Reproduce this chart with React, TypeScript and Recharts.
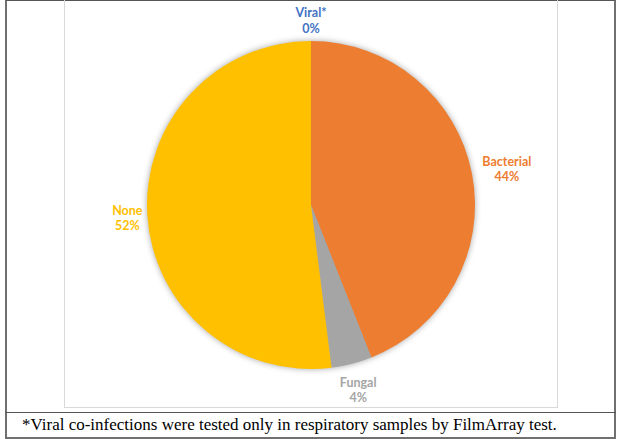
import React from 'react';
import { PieChart, Pie, Cell } from 'recharts';

const categories = ['Viral*', 'Bacterial', 'Fungal', 'None'];
const values = [0, 44, 4, 52];
const colors = ['#4472C4', '#ED7D31', '#A5A5A5', '#FFC000'];
const footnote = '*Viral co-infections were tested only in respiratory samples by FilmArray test.';

const data = categories.map((name, i) => ({ name, value: values[i] }));

const RAD = Math.PI / 180;

const renderLabel = (props: any) => {
  const { cx, cy, midAngle, outerRadius, index } = props;
  const name = categories[index];
  const cos = Math.cos(-midAngle * RAD);
  const sin = Math.sin(-midAngle * RAD);
  const w = name.length * 5.6;
  const r = outerRadius + 8 + Math.abs(cos) * (w / 2) + Math.abs(sin) * 14;
  const x = cx + r * cos;
  const y = cy + r * sin;
  return (
    <text
      x={x}
      y={y}
      textAnchor="middle"
      fill={colors[index]}
      style={{ fontFamily: 'Lato, "Open Sans", sans-serif', fontWeight: 700, fontSize: 12.5 }}
    >
      <tspan x={x} dy={-2}>{name}</tspan>
      <tspan x={x} dy={15.5}>{`${values[index]}%`}</tspan>
    </text>
  );
};

export default function App() {
  return (
    <div style={{ position: 'absolute', left: 0, top: 0, width: 622, height: 439, background: '#fff', overflow: 'hidden' }}>
      <style>{'.recharts-pie g:has(> .recharts-pie-sector){filter:drop-shadow(0 0 3px rgba(0,0,0,0.35));}'}</style>
      <div style={{ position: 'absolute', left: 5, top: 0, width: 611, height: 439, boxSizing: 'border-box', border: '2px solid #707070', borderTopWidth: 1, borderTopColor: '#555' }} />
      <div style={{ position: 'absolute', left: 5, top: 412, width: 611, height: 1, background: '#555' }} />
      <div style={{ position: 'absolute', left: 64, top: 0, width: 494, height: 408, boxSizing: 'border-box', border: '1px solid #d9d9d9', borderTop: 'none' }} />
      <div style={{ position: 'absolute', left: 22, top: 413, height: 24, display: 'flex', alignItems: 'center', fontFamily: '"Liberation Serif", "Times New Roman", serif', fontSize: 17, color: '#000', whiteSpace: 'nowrap' }}>
        {footnote}
      </div>
      <div style={{ position: 'absolute', left: 0, top: 0 }}>
        <PieChart width={622} height={439} margin={{ top: 0, right: 0, bottom: 0, left: 0 }}>
          <Pie
            data={data}
            dataKey="value"
            nameKey="name"
            cx={311}
            cy={205}
            outerRadius={164}
            startAngle={90}
            endAngle={-270}
            stroke="none"
            label={renderLabel}
            labelLine={false}
            isAnimationActive={false}
          >
            {data.map((d, i) => (
              <Cell key={d.name} fill={colors[i]} />
            ))}
          </Pie>
        </PieChart>
      </div>
    </div>
  );
}
